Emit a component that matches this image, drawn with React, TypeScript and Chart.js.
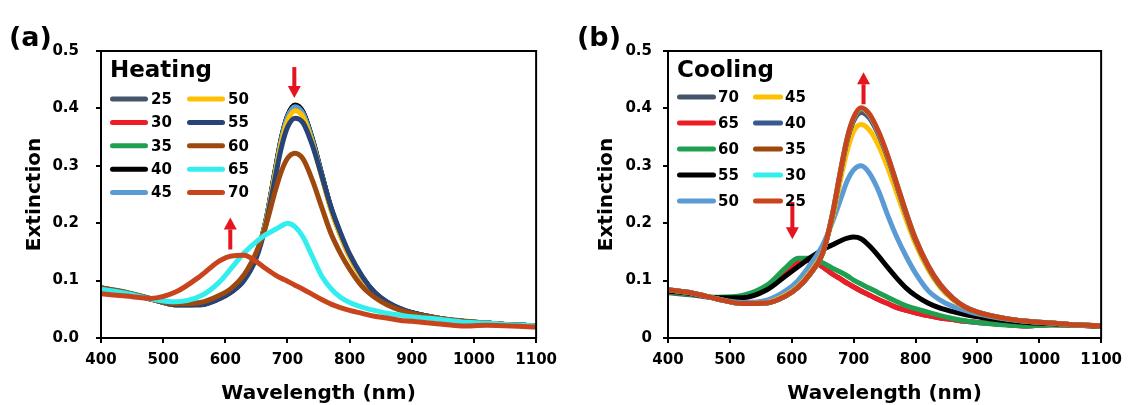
import React, { useEffect, useRef } from "react";
import { Chart, registerables } from "chart.js";

Chart.register(...registerables);

const FONT_FAMILY = "'DejaVu Sans', 'Liberation Sans', sans-serif";

// ---------- shared axis data ----------
const wavelengths = [400, 440, 480, 520, 560, 590, 610, 630, 650, 665, 680, 690, 700, 712, 725, 740, 755, 770, 785, 800, 820, 840, 860, 880, 900, 940, 980, 1020, 1060, 1100];
const xTickValues = [400, 500, 600, 700, 800, 900, 1000, 1100];
const yTickValues = [0, 0.1, 0.2, 0.3, 0.4, 0.5];
const yTickLabelsA = ["0.0", "0.1", "0.2", "0.3", "0.4", "0.5"];
const yTickLabelsB = ["0", "0.1", "0.2", "0.3", "0.4", "0.5"];

// ---------- (a) Heating ----------
const heatingLabels = ["25", "30", "35", "40", "45", "50", "55", "60", "65", "70"];
const heatingColors = ["#44546A", "#EE1C25", "#1FA050", "#000000", "#5B9BD5", "#FFC000", "#264478", "#9E480E", "#33EEEE", "#C9441C"];
const h25 = [0.087, 0.079, 0.068, 0.058, 0.059, 0.070, 0.082, 0.103, 0.145, 0.203, 0.290, 0.347, 0.386, 0.405, 0.393, 0.346, 0.285, 0.226, 0.181, 0.143, 0.106, 0.079, 0.062, 0.051, 0.044, 0.035, 0.029, 0.026, 0.023, 0.021];
const h30 = [0.086, 0.079, 0.068, 0.058, 0.059, 0.069, 0.081, 0.102, 0.144, 0.202, 0.289, 0.346, 0.385, 0.404, 0.392, 0.345, 0.284, 0.225, 0.180, 0.142, 0.105, 0.078, 0.061, 0.050, 0.043, 0.035, 0.029, 0.026, 0.023, 0.021];
const h35 = [0.087, 0.080, 0.069, 0.059, 0.060, 0.070, 0.082, 0.103, 0.145, 0.203, 0.290, 0.347, 0.386, 0.404, 0.392, 0.346, 0.285, 0.226, 0.181, 0.143, 0.106, 0.079, 0.062, 0.051, 0.044, 0.035, 0.030, 0.026, 0.023, 0.021];
const h40 = [0.086, 0.079, 0.068, 0.058, 0.058, 0.069, 0.081, 0.102, 0.144, 0.203, 0.291, 0.348, 0.387, 0.406, 0.394, 0.347, 0.286, 0.226, 0.181, 0.143, 0.106, 0.079, 0.062, 0.051, 0.044, 0.035, 0.029, 0.026, 0.023, 0.021];
const h45 = [0.087, 0.079, 0.068, 0.058, 0.059, 0.070, 0.082, 0.103, 0.145, 0.203, 0.289, 0.346, 0.385, 0.403, 0.391, 0.345, 0.284, 0.225, 0.180, 0.142, 0.105, 0.078, 0.061, 0.050, 0.043, 0.035, 0.029, 0.026, 0.023, 0.021];
const h50 = [0.087, 0.079, 0.068, 0.058, 0.059, 0.070, 0.082, 0.102, 0.143, 0.200, 0.285, 0.340, 0.378, 0.396, 0.385, 0.340, 0.281, 0.223, 0.179, 0.141, 0.105, 0.078, 0.061, 0.050, 0.043, 0.035, 0.029, 0.026, 0.023, 0.021];
const h55 = [0.087, 0.079, 0.068, 0.058, 0.058, 0.068, 0.080, 0.100, 0.140, 0.196, 0.278, 0.331, 0.367, 0.383, 0.375, 0.336, 0.283, 0.228, 0.184, 0.146, 0.108, 0.080, 0.063, 0.052, 0.044, 0.035, 0.029, 0.026, 0.023, 0.021];
const h60 = [0.087, 0.079, 0.068, 0.060, 0.062, 0.074, 0.087, 0.110, 0.150, 0.195, 0.255, 0.290, 0.313, 0.322, 0.312, 0.275, 0.228, 0.182, 0.148, 0.120, 0.090, 0.071, 0.058, 0.049, 0.043, 0.035, 0.029, 0.026, 0.023, 0.021];
const h65 = [0.085, 0.078, 0.068, 0.063, 0.073, 0.097, 0.122, 0.148, 0.168, 0.180, 0.189, 0.195, 0.200, 0.194, 0.176, 0.142, 0.108, 0.086, 0.071, 0.062, 0.054, 0.048, 0.043, 0.040, 0.037, 0.033, 0.028, 0.026, 0.023, 0.021];
const h70 = [0.077, 0.073, 0.069, 0.080, 0.108, 0.134, 0.143, 0.144, 0.133, 0.121, 0.110, 0.104, 0.099, 0.092, 0.085, 0.076, 0.067, 0.059, 0.053, 0.048, 0.043, 0.038, 0.035, 0.031, 0.029, 0.025, 0.021, 0.022, 0.021, 0.019];
const heatingSeries = [h25, h30, h35, h40, h45, h50, h55, h60, h65, h70];
const heatingArrows = [
  { x: 711, from: 0.472, to: 0.418 },
  { x: 608, from: 0.156, to: 0.21 },
];

// ---------- (b) Cooling ----------
const coolingLabels = ["70", "65", "60", "55", "50", "45", "40", "35", "30", "25"];
const coolingColors = ["#44546A", "#EE1C25", "#1FA050", "#000000", "#5B9BD5", "#FFC000", "#3A5A8C", "#9E480E", "#33EEEE", "#C9441C"];
const c70 = [0.079, 0.075, 0.070, 0.071, 0.087, 0.115, 0.131, 0.135, 0.124, 0.112, 0.102, 0.095, 0.089, 0.082, 0.075, 0.067, 0.060, 0.053, 0.048, 0.044, 0.039, 0.035, 0.032, 0.029, 0.027, 0.024, 0.021, 0.023, 0.022, 0.020];
const c65 = [0.080, 0.076, 0.070, 0.071, 0.088, 0.116, 0.132, 0.136, 0.124, 0.112, 0.102, 0.095, 0.089, 0.082, 0.075, 0.067, 0.060, 0.053, 0.048, 0.044, 0.039, 0.035, 0.032, 0.029, 0.027, 0.024, 0.021, 0.023, 0.022, 0.020];
const c60 = [0.080, 0.076, 0.071, 0.074, 0.092, 0.122, 0.139, 0.139, 0.131, 0.122, 0.114, 0.108, 0.101, 0.094, 0.087, 0.079, 0.071, 0.063, 0.056, 0.051, 0.045, 0.039, 0.034, 0.030, 0.027, 0.023, 0.021, 0.023, 0.022, 0.020];
const c55 = [0.082, 0.077, 0.070, 0.070, 0.084, 0.108, 0.124, 0.140, 0.154, 0.162, 0.170, 0.174, 0.176, 0.173, 0.161, 0.143, 0.123, 0.104, 0.087, 0.074, 0.061, 0.052, 0.046, 0.041, 0.037, 0.031, 0.027, 0.025, 0.023, 0.021];
const c50 = [0.084, 0.078, 0.068, 0.062, 0.066, 0.082, 0.100, 0.128, 0.162, 0.200, 0.245, 0.275, 0.293, 0.300, 0.288, 0.257, 0.214, 0.175, 0.142, 0.113, 0.083, 0.066, 0.055, 0.048, 0.042, 0.034, 0.029, 0.026, 0.023, 0.021];
const c45 = [0.084, 0.078, 0.068, 0.060, 0.062, 0.075, 0.090, 0.115, 0.150, 0.205, 0.282, 0.328, 0.360, 0.372, 0.363, 0.336, 0.297, 0.252, 0.206, 0.164, 0.120, 0.088, 0.067, 0.053, 0.045, 0.035, 0.029, 0.026, 0.023, 0.021];
const c40 = [0.084, 0.078, 0.068, 0.060, 0.061, 0.073, 0.088, 0.112, 0.148, 0.210, 0.295, 0.346, 0.378, 0.393, 0.384, 0.355, 0.314, 0.265, 0.215, 0.170, 0.125, 0.091, 0.069, 0.054, 0.045, 0.035, 0.029, 0.026, 0.023, 0.021];
const c35 = [0.084, 0.078, 0.068, 0.060, 0.061, 0.073, 0.088, 0.112, 0.148, 0.211, 0.297, 0.348, 0.381, 0.397, 0.388, 0.358, 0.316, 0.267, 0.217, 0.172, 0.126, 0.092, 0.069, 0.054, 0.045, 0.035, 0.029, 0.026, 0.023, 0.021];
const c30 = [0.084, 0.078, 0.068, 0.060, 0.061, 0.073, 0.088, 0.112, 0.148, 0.212, 0.298, 0.350, 0.383, 0.400, 0.390, 0.359, 0.317, 0.268, 0.218, 0.173, 0.127, 0.093, 0.070, 0.054, 0.045, 0.035, 0.029, 0.026, 0.023, 0.021];
const c25 = [0.084, 0.078, 0.068, 0.060, 0.061, 0.073, 0.088, 0.112, 0.148, 0.212, 0.298, 0.350, 0.384, 0.401, 0.391, 0.360, 0.318, 0.268, 0.218, 0.173, 0.127, 0.093, 0.070, 0.054, 0.045, 0.035, 0.029, 0.026, 0.023, 0.021];
const coolingSeries = [c70, c65, c60, c55, c50, c45, c40, c35, c30, c25];
const coolingArrows = [
  { x: 716, from: 0.409, to: 0.463 },
  { x: 601, from: 0.237, to: 0.172 },
];

type Arrow = { x: number; from: number; to: number };

interface PanelSpec {
  tag: string;
  tagX: number;
  tagY: number;
  legendTitle: string;
  legendTitleX: number;
  legendTitleY: number;
  rowY0: number;
  rowStep: number;
  col1Line: [number, number];
  col1Text: number;
  col2Line: [number, number];
  col2Text: number;
  labels: string[];
  colors: string[];
  series: number[][];
  arrows: Arrow[];
  yTickLabels: string[];
  padding: { left: number; right: number; top: number; bottom: number };
  yAxisWidth: number;
  xAxisHeight: number;
  yTickPad: number;
  yTitlePad: number;
}

const panelA: PanelSpec = {
  tag: "(a)",
  tagX: 9,
  tagY: 46,
  legendTitle: "Heating",
  legendTitleX: 110,
  legendTitleY: 77,
  rowY0: 99,
  rowStep: 23.4,
  col1Line: [110, 148],
  col1Text: 151,
  col2Line: [187, 225],
  col2Text: 228,
  labels: heatingLabels,
  colors: heatingColors,
  series: heatingSeries,
  arrows: heatingArrows,
  yTickLabels: yTickLabelsA,
  padding: { left: 0, right: 27, top: 51, bottom: 0 },
  yAxisWidth: 101,
  xAxisHeight: 67,
  yTickPad: 17,
  yTitlePad: 25,
};

const panelB: PanelSpec = {
  tag: "(b)",
  tagX: 12,
  tagY: 46,
  legendTitle: "Cooling",
  legendTitleX: 112,
  legendTitleY: 77,
  rowY0: 97,
  rowStep: 26,
  col1Line: [112, 151],
  col1Text: 153,
  col2Line: [188, 218],
  col2Text: 220,
  labels: coolingLabels,
  colors: coolingColors,
  series: coolingSeries,
  arrows: coolingArrows,
  yTickLabels: yTickLabelsB,
  padding: { left: 0, right: 24, top: 51, bottom: 0 },
  yAxisWidth: 103,
  xAxisHeight: 67,
  yTickPad: 11,
  yTitlePad: 32,
};

function makeDecorPlugin(spec: PanelSpec) {
  return {
    id: "panelDecor",
    afterDraw(chart: any) {
      const { ctx, chartArea, scales } = chart;
      ctx.save();
      // frame
      ctx.strokeStyle = "#000";
      ctx.lineWidth = 2;
      ctx.strokeRect(chartArea.left, chartArea.top, chartArea.right - chartArea.left, chartArea.bottom - chartArea.top);

      // arrows
      const xs = scales.x;
      const ys = scales.y;
      ctx.fillStyle = "#E4151F";
      spec.arrows.forEach((a) => {
        const px = xs.getPixelForValue(a.x);
        const y0 = ys.getPixelForValue(a.from);
        const y1 = ys.getPixelForValue(a.to);
        const dir = y1 > y0 ? 1 : -1;
        const headLen = 12;
        const headW = 6.5;
        const shaftW = 2;
        const yBase = y1 - dir * headLen;
        ctx.fillRect(px - shaftW, Math.min(y0, yBase), 2 * shaftW, Math.abs(yBase - y0) + 1);
        ctx.beginPath();
        ctx.moveTo(px - headW, yBase);
        ctx.lineTo(px + headW, yBase);
        ctx.lineTo(px, y1);
        ctx.closePath();
        ctx.fill();
      });

      // panel tag
      ctx.fillStyle = "#000";
      ctx.textAlign = "left";
      ctx.textBaseline = "alphabetic";
      ctx.font = `bold 27px ${FONT_FAMILY}`;
      ctx.fillText(spec.tag, spec.tagX, spec.tagY);

      // legend title
      ctx.font = `bold 23px ${FONT_FAMILY}`;
      ctx.fillText(spec.legendTitle, spec.legendTitleX, spec.legendTitleY);

      // legend items
      ctx.font = `bold 15px ${FONT_FAMILY}`;
      ctx.textBaseline = "middle";
      ctx.lineCap = "round";
      ctx.lineWidth = 5;
      spec.labels.forEach((lab, i) => {
        const col = i < 5 ? 0 : 1;
        const row = i % 5;
        const y = spec.rowY0 + row * spec.rowStep;
        const [x0, x1] = col === 0 ? spec.col1Line : spec.col2Line;
        ctx.strokeStyle = spec.colors[i];
        ctx.beginPath();
        ctx.moveTo(x0 + 2.5, y);
        ctx.lineTo(x1 - 2.5, y);
        ctx.stroke();
        ctx.fillStyle = "#000";
        ctx.fillText(lab, col === 0 ? spec.col1Text : spec.col2Text, y + 1);
      });
      ctx.restore();
    },
  };
}

function buildConfig(spec: PanelSpec): any {
  const n = spec.series.length;
  const datasets = spec.series.map((vals, i) => ({
    label: spec.labels[i],
    data: wavelengths.map((w, j) => ({ x: w, y: vals[j] })),
    borderColor: spec.colors[i],
    backgroundColor: spec.colors[i],
    borderWidth: 5,
    pointRadius: 0,
    pointHoverRadius: 0,
    fill: false,
    cubicInterpolationMode: "monotone",
    borderCapStyle: "round",
    borderJoinStyle: "round",
    order: n - i,
  }));
  const tickFont = { family: FONT_FAMILY, size: 15, weight: "bold" };
  const titleFont = { family: FONT_FAMILY, size: 20, weight: "bold", lineHeight: 1 };
  const grid = {
    display: true,
    drawOnChartArea: false,
    drawTicks: true,
    tickLength: 5,
    color: "#000",
    lineWidth: 2,
  };
  return {
    type: "line",
    data: { datasets },
    options: {
      responsive: false,
      maintainAspectRatio: false,
      animation: false,
      devicePixelRatio: 1,
      events: [],
      layout: { autoPadding: false, padding: spec.padding },
      plugins: {
        legend: { display: false },
        tooltip: { enabled: false },
        title: { display: false },
      },
      scales: {
        x: {
          type: "linear",
          min: 400,
          max: 1100,
          afterFit: (s: any) => {
            s.height = spec.xAxisHeight;
          },
          afterBuildTicks: (s: any) => {
            s.ticks = xTickValues.map((v) => ({ value: v }));
          },
          ticks: {
            font: tickFont,
            color: "#000",
            padding: 8,
            maxRotation: 0,
            autoSkip: false,
            callback: (v: any) => String(v),
          },
          grid,
          border: { display: false },
          title: {
            display: true,
            text: "Wavelength (nm)",
            font: titleFont,
            color: "#000",
            padding: { top: 0, bottom: 1 },
          },
        },
        y: {
          type: "linear",
          min: 0,
          max: 0.5,
          afterFit: (s: any) => {
            s.width = spec.yAxisWidth;
          },
          afterBuildTicks: (s: any) => {
            s.ticks = yTickValues.map((v) => ({ value: v }));
          },
          ticks: {
            font: tickFont,
            color: "#000",
            padding: spec.yTickPad,
            callback: (_v: any, idx: number) => spec.yTickLabels[idx],
          },
          grid,
          border: { display: false },
          title: {
            display: true,
            text: "Extinction",
            font: titleFont,
            color: "#000",
            padding: { top: spec.yTitlePad, bottom: 0 },
          },
        },
      },
    },
    plugins: [makeDecorPlugin(spec)],
  };
}

function Panel({ spec, left }: { spec: PanelSpec; left: number }) {
  const ref = useRef<HTMLCanvasElement | null>(null);
  useEffect(() => {
    if (!ref.current) return;
    const chart = new Chart(ref.current, buildConfig(spec));
    return () => chart.destroy();
  }, [spec]);
  return (
    <canvas
      ref={ref}
      width={565}
      height={405}
      style={{ position: "absolute", left, top: 0, width: 565, height: 405, display: "block" }}
    />
  );
}

export default function App() {
  return (
    <div style={{ position: "fixed", left: 0, top: 0, width: 1130, height: 405, background: "#fff", overflow: "hidden" }}>
      <Panel spec={panelA} left={0} />
      <Panel spec={panelB} left={565} />
    </div>
  );
}
